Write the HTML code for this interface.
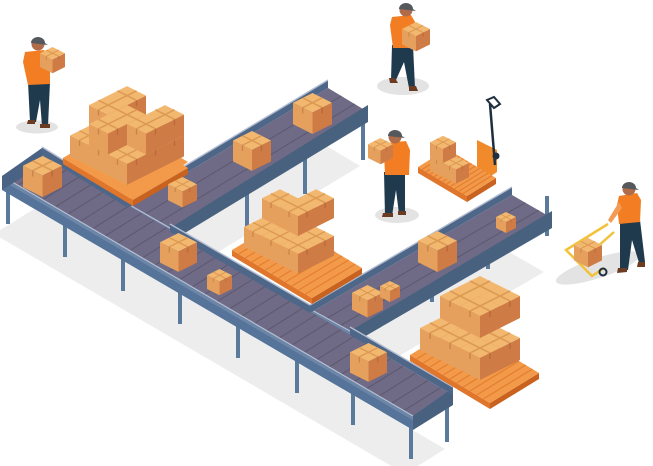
<!DOCTYPE html>
<html><head><meta charset="utf-8"><style>html,body{margin:0;padding:0;background:#fff;overflow:hidden}svg{display:block}</style></head>
<body>
<svg id="s" width="653" height="466" viewBox="0 0 653 466" xmlns="http://www.w3.org/2000/svg">
<defs>
<g id="box">
<polygon points="0,10 20,0 40,10 20,20" fill="#f3b86f"/>
<polygon points="0,10 20,20 20,42 0,32" fill="#e6a05d"/>
<polygon points="20,20 40,10 40,32 20,42" fill="#cf7b46"/>
<line x1="10" y1="5" x2="30" y2="15" stroke="#dc9a55" stroke-width="1.6"/>
<line x1="10" y1="15" x2="30" y2="5" stroke="#dc9a55" stroke-width="1.6"/>
<line x1="10" y1="15" x2="10" y2="21" stroke="#c98448" stroke-width="1.4"/>
<line x1="30" y1="15" x2="30" y2="21" stroke="#b86a3a" stroke-width="1.4"/>
</g>
</defs>
<g id="shadows" fill="#ededed"></g>
<g id="legs" fill="#5b7a9b"></g>
<g id="belts"></g>
<g id="items"></g>
<g id="people"></g>
</svg>
<script>
var NS="http://www.w3.org/2000/svg";
function el(parent,tag,attrs){var e=document.createElementNS(NS,tag);for(var k in attrs)e.setAttribute(k,attrs[k]);document.getElementById(parent).appendChild(e);return e;}
function pts(a){return a.map(function(p){return p[0]+","+p[1]}).join(" ");}
function add(p,d){return [p[0]+d[0],p[1]+d[1]];}
function box(x,y,w,g){el(g||"items","use",{href:"#box",transform:"translate("+x+","+y+") scale("+(w/40)+")"});}

function belt(F0,B0,B1,F1,backSegs,opts){
  var sh=[F0,B0,B1,F1].map(function(p){return add(p,[-8,54]);});
  el("shadows","polygon",{points:pts(sh)});
  var T=10;
  el("belts","polygon",{points:pts([F0,B0,B1,F1]),fill:"#6f6a85"});
  var L=Math.hypot(F1[0]-F0[0],F1[1]-F0[1]);var n=Math.floor(L/14);
  for(var i=1;i<n;i++){var t=i/n;
    var a=[F0[0]+(F1[0]-F0[0])*t,F0[1]+(F1[1]-F0[1])*t],b=[B0[0]+(B1[0]-B0[0])*t,B0[1]+(B1[1]-B0[1])*t];
    el("belts","line",{x1:a[0],y1:a[1],x2:b[0],y2:b[1],stroke:"#5c586f","stroke-width":1});}
  el("belts","polygon",{points:pts([F0,F1,add(F1,[0,T]),add(F0,[0,T])]),fill:"#56739a"});
  el("belts","polygon",{points:pts([add(F0,[0,-4]),add(F1,[0,-4]),F1,F0]),fill:"#6c86a8"});
  el("belts","line",{x1:F0[0],y1:F0[1]-4,x2:F1[0],y2:F1[1]-4,stroke:"#b5bfd3","stroke-width":1.2});
  if(opts.endR) el("belts","polygon",{points:pts([add(F1,[0,-4]),add(B1,[0,-7]),add(B1,[0,T]),add(F1,[0,T])]),fill:"#48617f"});
  if(opts.endL) el("belts","polygon",{points:pts([add(F0,[0,-4]),add(B0,[0,-7]),add(B0,[0,T]),add(F0,[0,T])]),fill:"#4a6384"});
  backSegs.forEach(function(s){
    el("belts","polygon",{points:pts([s[0],s[1],add(s[1],[0,-8]),add(s[0],[0,-8])]),fill:"#4e6789"});
    el("belts","line",{x1:s[0][0],y1:s[0][1]-8,x2:s[1][0],y2:s[1][1]-8,stroke:"#b3bdd2","stroke-width":1.4});
  });
}
function leg(x,y,h){el("legs","rect",{x:x-2,y:y,width:4,height:h});}
[[8,186],[65,219],[123,253],[180,286],[238,320],[297,355],[353,387],[411,421]].forEach(function(l){leg(l[0],l[1],38);});
leg(447,398,44);
[[247,190],[305,156],[363,122]].forEach(function(l){leg(l[0],l[1],38);});
[[432,262],[488,229],[547,196]].forEach(function(l){leg(l[0],l[1],40);});
[[128,205],[175,178],[310,98]].forEach(function(l){leg(l[0],l[1],30);});

belt([128,208],[328,88],[368,112],[170,232],[[[128,208],[328,88]]],{endR:1});
belt([310,313],[512,195],[552,218],[350,335],[[[310,313],[512,195]]],{endR:1});
belt([2,180],[42,155],[453,395],[413,420],[[[42,155],[128,208]],[[170,232],[310,313]],[[350,335],[453,395]]],{endR:1,endL:1});

function pallet(L,B,R){var T=add(L,[R[0]-B[0],R[1]-B[1]]);
  el("items","polygon",{points:pts([L,B,add(B,[0,6]),add(L,[0,6])]),fill:"#e0752c"});
  el("items","polygon",{points:pts([B,R,add(R,[0,6]),add(B,[0,6])]),fill:"#c9621f"});
  el("items","polygon",{points:pts([L,T,R,B]),fill:"#f39a4a"});
  for(var i=1;i<12;i++){var t=i/12;var a=[L[0]+(B[0]-L[0])*t,L[1]+(B[1]-L[1])*t],b=[T[0]+(R[0]-T[0])*t,T[1]+(R[1]-T[1])*t];
    el("items","line",{x1:a[0],y1:a[1],x2:b[0],y2:b[1],stroke:"#e4802f","stroke-width":1.3});}
}
function stack(bx,by,w,cells){cells.sort(function(a,b){return (a[2]-b[2])||((a[0]-a[1])-(b[0]-b[1]));});
  cells.forEach(function(c){box(bx+(c[0]+c[1])*w/2,by+(c[0]-c[1])*w/4-c[2]*w*0.55,w);});}

pallet([63,158],[133,200],[188,168]);
el("items","polygon",{points:"63,158 123,123 188,162 133,200",fill:"#f39a4a"});
stack(70,126,38,[[0,0,0],[0,1,0],[0,2,0],[1,0,0],[1,1,0],[1,2,0],[2,0,0],[2,1,0],[2,2,0],[0,1,1],[0,2,1],[1,1,1],[1,0,1],[2,1,1],[2,2,1]]);
box(23,156,39);box(168,177,29);box(233,131,38);box(293,93,39);box(160,233,37);box(207,269,25);
box(418,231,39);box(496,212,20);box(352,285,31);box(380,281,20);box(350,343,37);
pallet([232,250],[312,298],[362,268]);
stack(244,218,36,[[0,0,0],[0,1,0],[1,0,0],[1,1,0],[2,0,0],[2,1,0],[0,1,1],[1,1,1],[1,2,1]]);
pallet([410,355],[490,403],[539,373]);
stack(420,318,40,[[0,0,0],[0,1,0],[1,0,0],[1,1,0],[2,0,0],[2,1,0],[0,1,1],[0,2,1],[1,1,1],[1,2,1]]);
el("items","polygon",{points:"477,140 497,150 497,172 488,178 477,170",fill:"#f08a2a"});
el("items","path",{d:"M495,165 L490,104",stroke:"#1f2f3f","stroke-width":2.5,fill:"none"});
el("items","path",{d:"M487,100 L494,97 L500,104 L494,108 Z",stroke:"#1f2f3f","stroke-width":2,fill:"none"});
el("items","circle",{cx:496,cy:156,r:3.5,fill:"#1f2f3f"});
pallet([418,167],[467,196],[496,178]);
stack(430,150,26,[[0,0,0],[1,0,0],[0,0,1]]);

function ell(cx,cy,rx,ry){el("people","ellipse",{cx:cx,cy:cy,rx:rx,ry:ry,fill:"#e3e3e3"});}
function person(o){
  ell(o.sx,o.sy,o.rx,o.ry);
  el("people","path",{d:o.legs,fill:"#203a4d"});
  el("people","path",{d:o.shoes,fill:"#6b3b22"});
  el("people","path",{d:o.torso,fill:"#f27d22"});
  el("people","circle",{cx:o.hx,cy:o.hy,r:6.5,fill:"#b06c49"});
  el("people","path",{d:"M"+(o.hx-7)+","+(o.hy-1)+" a7,6 0 0 1 14,0 l3,2 z",fill:"#55585c"});
}
person({sx:37,sy:127,rx:21,ry:6.5,hx:38,hy:44,
  legs:"M28,82 L50,82 L48,126 L42,126 L40,100 L36,122 L30,122 Z",shoes:"M28,120 l7,0 l0,4 l-8,0 z M40,124 l10,0 l0,4 l-10,0z",
  torso:"M25,52 L44,50 L50,60 L50,84 L28,85 L23,62 Z"});
box(40,47,25,"people");
person({sx:403,sy:86,rx:26,ry:9,hx:406,hy:10,
  legs:"M392,45 L413,45 L415,88 L409,88 L404,62 L396,80 L391,80 Z",shoes:"M389,78 l6,0 l3,5 l-8,0z M409,86 l7,0 l2,5 l-9,0z",
  torso:"M392,17 L411,15 L415,22 L414,48 L393,48 L390,25 Z"});
box(402,22,28,"people");
person({sx:397,sy:215,rx:22,ry:8,hx:395,hy:137,
  legs:"M384,172 L405,172 L405,214 L399,214 L396,190 L392,216 L385,216 Z",shoes:"M383,213 l10,0 l0,4 l-11,0z M398,211 l8,0 l0,4 l-8,0z",
  torso:"M387,143 L406,141 L410,150 L409,175 L385,175 L384,152 Z"});
box(368,138,25,"people");
el("people","ellipse",{cx:598,cy:268,rx:44,ry:10,fill:"#e3e3e3",transform:"rotate(-18 598 268)"});
el("people","path",{d:"M620,222 L640,220 L645,262 L640,266 L632,240 L628,270 L620,270 Z",fill:"#203a4d"});
el("people","path",{d:"M618,268 l9,0 l0,4 l-10,1z M638,262 l7,0 l0,5 l-8,0z",fill:"#6b3b22"});
el("people","path",{d:"M608,224 L566,250 L592,276 L604,268 M614,232 L580,262",stroke:"#f2c23a","stroke-width":2.5,fill:"none"});
box(574,238,28,"people");
el("people","circle",{cx:603,cy:272,r:3.5,fill:"none",stroke:"#1f2f3f","stroke-width":2});
el("people","path",{d:"M619,196 L637,193 L641,200 L640,222 L619,224 L617,205 Z",fill:"#f27d22"});
el("people","path",{d:"M619,202 L608,220 L611,223 L622,208 Z",fill:"#f39a55"});
el("people","circle",{cx:629,cy:189,r:6.5,fill:"#b06c49"});
el("people","path",{d:"M622,188 a7,6 0 0 1 14,0 l3,2 z",fill:"#55585c"});
</script>
</body></html>
